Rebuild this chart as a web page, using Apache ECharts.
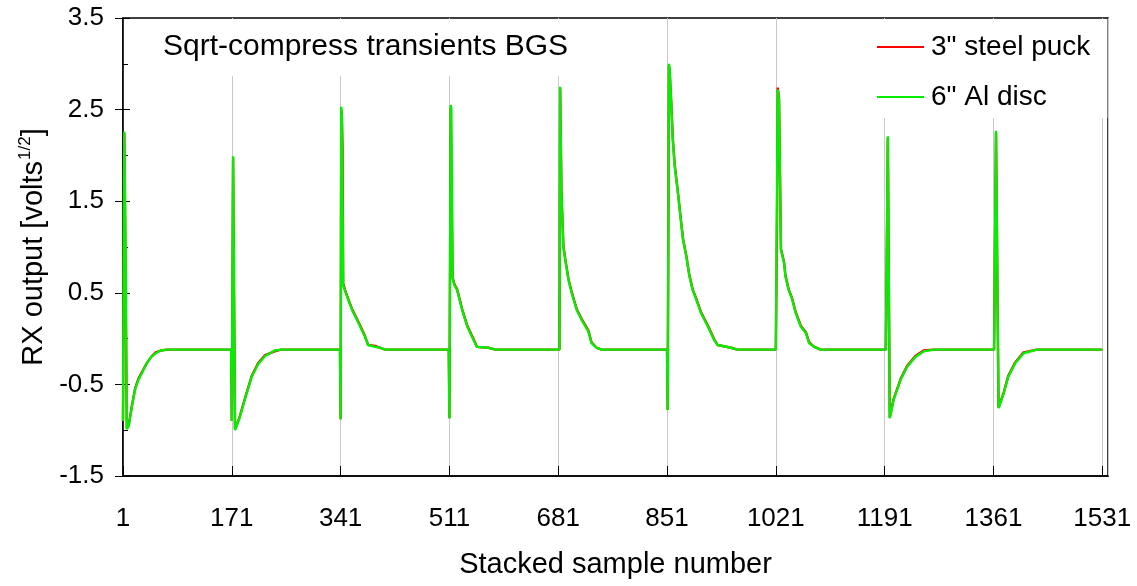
<!DOCTYPE html>
<html>
<head>
<meta charset="utf-8">
<script src="https://cdn.jsdelivr.net/npm/echarts/dist/echarts.min.js"></script>
<style>
  html, body { margin: 0; padding: 0; background: #fff; }
  #chart { width: 1137px; height: 586px; }
</style>
</head>
<body>
<div id="chart"></div>
<script>
// ---- Data ----
const seriesNames = ['3" steel puck', '6" Al disc'];
const chartTitle = 'Sqrt-compress transients BGS';
const xTickLabels = ['1', '171', '341', '511', '681', '851', '1021', '1191', '1361', '1531'];
const yTickLabels = ['-1.5', '-0.5', '0.5', '1.5', '2.5', '3.5'];

// 6" Al disc (green)
const alX = [
  1, 3, 5, 7, 8, 10, 15, 20, 25, 31, 38, 45, 52, 60, 70, 170,
  171, 173, 176, 178, 183, 192, 202, 212, 223, 238, 248, 340,
  341, 342, 343, 345, 348, 351, 359, 369, 379, 384, 395, 403, 411, 510,
  511, 513, 514, 516, 519, 523, 531, 539, 549, 554, 572, 583, 683,
  684, 686, 689, 692, 697, 702, 710, 718, 728, 733, 741, 749, 851,
  852, 854, 855, 858, 860, 863, 868, 872, 876, 881, 886, 891, 896, 904, 915, 925, 930, 951, 961, 1021,
  1022, 1024, 1026, 1029, 1034, 1036, 1041, 1046, 1052, 1060, 1068, 1073, 1081, 1091, 1193,
  1196, 1199, 1205, 1216, 1226, 1239, 1252, 1268, 1362,
  1365, 1369, 1377, 1384, 1395, 1408, 1429, 1531
];
const alY = [
  -0.90, 2.26, 1.00, -0.99, -1.00, -0.95, -0.74, -0.55, -0.45, -0.37, -0.27, -0.20, -0.16, -0.13, -0.12, -0.12,
  -0.90, 1.99, -1.00, -0.98, -0.87, -0.65, -0.42, -0.28, -0.19, -0.13, -0.12, -0.12,
  -0.88, 2.53, 2.40, 0.58, 0.52, 0.46, 0.31, 0.17, 0.02, -0.07, -0.09, -0.10, -0.12, -0.12,
  -0.87, 2.55, 2.50, 0.65, 0.58, 0.53, 0.31, 0.13, -0.02, -0.09, -0.10, -0.12, -0.12,
  2.75, 1.60, 1.00, 0.86, 0.64, 0.50, 0.31, 0.20, 0.08, -0.05, -0.10, -0.12, -0.12,
  -0.78, 3.00, 2.95, 2.50, 2.17, 1.88, 1.59, 1.33, 1.08, 0.90, 0.68, 0.53, 0.44, 0.28, 0.13, -0.02, -0.07, -0.10, -0.12, -0.12,
  -0.12, 2.72, 2.60, 0.97, 0.82, 0.68, 0.53, 0.44, 0.28, 0.13, 0.06, -0.05, -0.09, -0.12, -0.12,
  2.21, -0.87, -0.67, -0.45, -0.31, -0.20, -0.14, -0.12, -0.12,
  2.27, -0.76, -0.60, -0.42, -0.27, -0.16, -0.12, -0.12
];

// 3" steel puck (red, mostly hidden under the green trace)
const steelX = [
  1, 3, 4, 7, 8, 10, 15, 20, 25, 31, 38, 45, 52, 60, 70, 170,
  171, 173, 176, 178, 183, 192, 202, 212, 223, 238, 248, 340,
  341, 342, 343, 344, 345, 348, 351, 359, 369, 379, 384, 395, 403, 411, 510,
  511, 513, 514, 516, 519, 523, 531, 539, 549, 554, 572, 583, 683,
  684, 686, 689, 692, 697, 702, 710, 718, 728, 733, 741, 749, 851,
  852, 854, 855, 858, 860, 863, 868, 872, 876, 881, 886, 891, 896, 904, 915, 925, 930, 951, 961, 1021,
  1022, 1023, 1024, 1026, 1029, 1034, 1036, 1041, 1046, 1052, 1060, 1068, 1073, 1081, 1091, 1193,
  1196, 1199, 1205, 1216, 1226, 1239, 1252, 1268, 1362,
  1365, 1369, 1377, 1384, 1395, 1408, 1429, 1531
];
const steelY = [
  -0.90, 2.24, 1.50, -0.98, -1.00, -0.94, -0.73, -0.54, -0.44, -0.36, -0.27, -0.20, -0.15, -0.13, -0.12, -0.12,
  -0.90, 1.97, -0.99, -0.97, -0.86, -0.64, -0.41, -0.27, -0.18, -0.14, -0.12, -0.12,
  -0.88, 2.50, 2.42, 2.10, 0.60, 0.53, 0.47, 0.32, 0.18, 0.03, -0.07, -0.08, -0.10, -0.12, -0.12,
  -0.87, 2.52, 2.50, 0.67, 0.59, 0.54, 0.32, 0.14, -0.01, -0.09, -0.10, -0.12, -0.12,
  2.73, 1.62, 1.02, 0.87, 0.65, 0.51, 0.32, 0.21, 0.09, -0.04, -0.10, -0.12, -0.12,
  -0.78, 2.98, 2.94, 2.52, 2.19, 1.90, 1.60, 1.34, 1.09, 0.91, 0.69, 0.54, 0.45, 0.29, 0.14, -0.01, -0.07, -0.10, -0.12, -0.12,
  -0.12, 1.40, 2.74, 2.62, 0.98, 0.83, 0.69, 0.54, 0.45, 0.29, 0.14, 0.07, -0.04, -0.09, -0.12, -0.12,
  2.19, -0.86, -0.66, -0.44, -0.30, -0.19, -0.13, -0.12, -0.12,
  2.25, -0.75, -0.59, -0.41, -0.26, -0.15, -0.12, -0.12
];

// ---- Chart ----
const FONT = '"Liberation Sans", Arial, Helvetica, sans-serif';
const chart = echarts.init(document.getElementById('chart'), null, { renderer: 'canvas' });

const toPairs = (xs, ys) => xs.map((x, i) => [x, ys[i]]);

const option = {
  backgroundColor: '#ffffff',
  animation: false,
  textStyle: { fontFamily: FONT, color: '#000' },
  title: {
    text: chartTitle,
    left: 143,
    top: 19,
    padding: [12, 20, 13, 20],
    backgroundColor: '#ffffff',
    textStyle: { fontFamily: FONT, fontSize: 30, fontWeight: 'normal', color: '#000', lineHeight: 32 }
  },
  legend: {
    orient: 'vertical',
    left: 860,
    top: 19,
    padding: [13, 17, 6, 17],
    itemGap: 20,
    itemWidth: 47,
    itemHeight: 2,
    icon: 'rect',
    backgroundColor: '#ffffff',
    textStyle: { fontFamily: FONT, fontSize: 28, color: '#000', lineHeight: 30, padding: [0, 0, 0, 2] },
    data: seriesNames
  },
  grid: {
    left: 123, right: 29, top: 18, bottom: 110,
    show: true, borderColor: '#000', borderWidth: 1.5, backgroundColor: 'transparent'
  },
  xAxis: {
    type: 'value',
    min: 1,
    max: 1540,
    interval: 170,
    name: 'Stacked sample number',
    nameLocation: 'middle',
    nameGap: 74,
    nameTextStyle: { fontFamily: FONT, fontSize: 29, color: '#000' },
    axisLine: { show: true, onZero: false, lineStyle: { color: '#000', width: 1.5 } },
    axisTick: { show: true, inside: true, length: 10, lineStyle: { color: '#000', width: 1 } },
    axisLabel: {
      show: true, margin: 30, fontFamily: FONT, fontSize: 26, color: '#000',
      showMaxLabel: false,
      formatter: v => { const k = Math.round((v - 1) / 170); return (Math.abs(v - 1 - k * 170) < 1e-6 && k < xTickLabels.length) ? xTickLabels[k] : ''; }
    },
    splitLine: { show: true, lineStyle: { color: '#c8c8c8', width: 1 } }
  },
  yAxis: [
    {
      type: 'value',
      min: -1.5,
      max: 3.5,
      interval: 1,
      position: 'left',
      name: '{a|RX output [volts}{s|1/2}{a|]}',
      nameLocation: 'middle',
      nameGap: 72,
      nameTextStyle: {
        rich: {
          a: { fontFamily: FONT, fontSize: 29, color: '#000', lineHeight: 34 },
          s: { fontFamily: FONT, fontSize: 17, color: '#000', lineHeight: 34, verticalAlign: 'top', padding: [0, 0, 0, 1] }
        }
      },
      axisLine: { show: true, onZero: false, lineStyle: { color: '#000', width: 1.5 } },
      axisTick: { show: true, inside: false, length: 8, lineStyle: { color: '#000', width: 1 } },
      axisLabel: {
        show: true, margin: 19, fontFamily: FONT, fontSize: 26, color: '#000',
        formatter: v => { const k = Math.round(v + 1.5); return (Math.abs(v + 1.5 - k) < 1e-6 && k < yTickLabels.length) ? yTickLabels[k] : ''; }
      },
      splitLine: { show: false }
    },
    {
      type: 'value',
      min: -1.5,
      max: 3.5,
      interval: 1,
      position: 'left',
      offset: 0,
      axisLine: { show: false, onZero: false },
      axisTick: { show: true, inside: true, length: 7, lineStyle: { color: '#000', width: 1 } },
      minorTick: { show: true, splitNumber: 2, length: 5, lineStyle: { color: '#000', width: 1 } },
      axisLabel: { show: false },
      splitLine: { show: false }
    }
  ],
  series: [
    {
      name: seriesNames[0],
      type: 'line',
      yAxisIndex: 0,
      data: toPairs(steelX, steelY),
      symbol: 'none',
      showSymbol: false,
      smooth: false,
      lineStyle: { color: '#ff0000', width: 2.4 },
      itemStyle: { color: '#ff0000' },
      z: 2
    },
    {
      name: seriesNames[1],
      type: 'line',
      yAxisIndex: 0,
      data: toPairs(alX, alY),
      symbol: 'none',
      showSymbol: false,
      smooth: false,
      lineStyle: { color: '#00f000', width: 2.4 },
      itemStyle: { color: '#00f000' },
      z: 3
    }
  ]
};
chart.setOption(option);
</script>
</body>
</html>
